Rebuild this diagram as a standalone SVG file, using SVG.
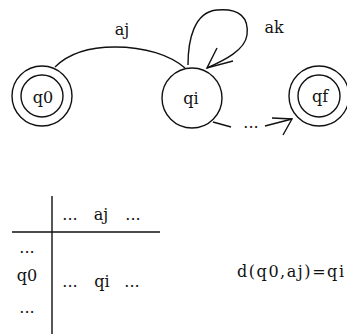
<svg xmlns="http://www.w3.org/2000/svg" width="347" height="335" viewBox="0 0 347 335">
<style>
.ln{fill:none;stroke:#111;stroke-width:1.4}
.t{font-family:"DejaVu Serif","Liberation Serif",serif;font-size:16px;fill:#111}
</style>
<rect width="347" height="335" fill="#fff"/>
<g id="edges">
<path class="ln" d="M55,67 C70,52 90,47 115,47 C145,47 170,55 185,68"/>
<text class="t" x="122" y="35" text-anchor="middle">aj</text>
<path class="ln" d="M188,65 C188,40 194,12 217,10 C240,8 249,18 247,35 C245,50 225,60 207,68"/>
<path class="ln" d="M217,48 L207,68 L233,61"/>
<text class="t" x="274" y="33" text-anchor="middle">ak</text>
<path class="ln" d="M213,122 L231,127"/>
<text class="t" x="251" y="128" text-anchor="middle">...</text>
<path class="ln" d="M265,126 L292,119"/>
<path class="ln" d="M272,118 L292,119 L283,135"/>
</g>
<g id="q0">
<circle class="ln" cx="42" cy="96" r="30"/>
<circle class="ln" cx="42" cy="96" r="21"/>
<text class="t" x="43" y="103" text-anchor="middle">q0</text>
</g>
<g id="qi">
<circle class="ln" cx="192" cy="98" r="30"/>
<text class="t" x="191" y="104" text-anchor="middle">qi</text>
</g>
<g id="qf">
<circle class="ln" cx="319" cy="96" r="30"/>
<circle class="ln" cx="319" cy="96" r="21"/>
<text class="t" x="320" y="102" text-anchor="middle">qf</text>
</g>
<g id="table">
<path class="ln" d="M52,196 V334 M12,232 H160"/>
<text class="t" x="70" y="220" text-anchor="middle">...</text>
<text class="t" x="101" y="220" text-anchor="middle">aj</text>
<text class="t" x="133" y="220" text-anchor="middle">...</text>
<text class="t" x="27" y="253" text-anchor="middle">...</text>
<text class="t" x="27" y="281" text-anchor="middle">q0</text>
<text class="t" x="27" y="313" text-anchor="middle">...</text>
<text class="t" x="70" y="287" text-anchor="middle">...</text>
<text class="t" x="102" y="287" text-anchor="middle">qi</text>
<text class="t" x="132" y="287" text-anchor="middle">...</text>
</g>
<g id="formula">
<text class="t" x="237" y="277" textLength="107" lengthAdjust="spacing">d(q0,aj)=qi</text>
</g>
</svg>
